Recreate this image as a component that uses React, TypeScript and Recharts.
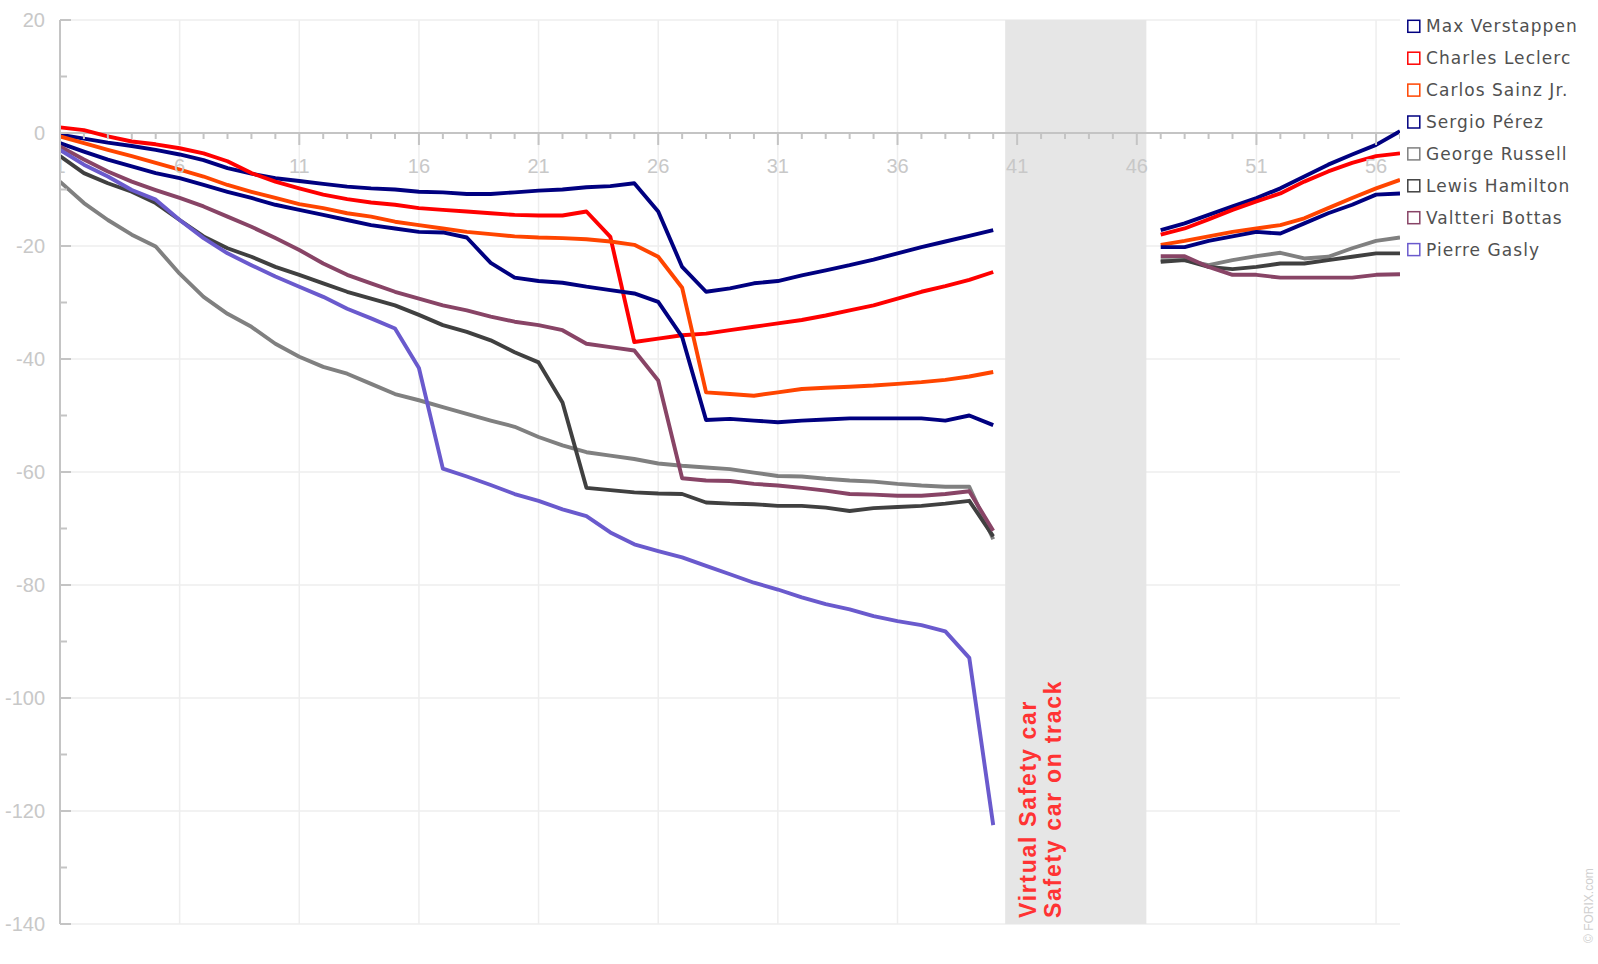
import React from 'react';
import {
  ComposedChart,
  Line,
  XAxis,
  YAxis,
  CartesianGrid,
  ReferenceArea,
  ReferenceLine,
  Scatter,
} from 'recharts';

// ---------- DATA ----------
const laps = [
  1, 2, 3, 4, 5, 6, 7, 8, 9, 10, 11, 12, 13, 14, 15, 16, 17, 18, 19, 20,
  21, 22, 23, 24, 25, 26, 27, 28, 29, 30, 31, 32, 33, 34, 35, 36, 37, 38, 39, 40,
  41, 42, 43, 44, 45, 46, 47, 48, 49, 50, 51, 52, 53, 54, 55, 56, 57,
];

const xLabelLaps = [1, 6, 11, 16, 21, 26, 31, 36, 41, 46, 51, 56];
const yTicks = [20, 10, 0, -10, -20, -30, -40, -50, -60, -70, -80, -90, -100, -110, -120, -130, -140];
const yGridValues = [20, 0, -20, -40, -60, -80, -100, -120, -140];

const n = null;

const verstappen = [
  -0.3, -1.0, -1.7, -2.3, -3.0, -3.8, -4.8, -6.2, -7.2, -8.0,
  -8.5, -9.0, -9.5, -9.8, -10.0, -10.4, -10.5, -10.8, -10.8, -10.5,
  -10.2, -10.0, -9.6, -9.4, -8.9, -13.9, -23.7, -28.1, -27.5, -26.6,
  -26.2, -25.2, -24.3, -23.4, -22.4, -21.3, -20.2, -19.2, -18.2, -17.2,
  n, n, n, n, n, n,
  -17.2, -16.0, -14.5, -13.0, -11.5, -9.8, -7.7, -5.6, -3.8, -2.1, 0.3,
];
const leclerc = [
  1.0, 0.5, -0.6, -1.5, -2.0, -2.7, -3.6, -5.0, -7.1, -8.6,
  -9.8, -10.9, -11.7, -12.3, -12.7, -13.3, -13.6, -13.9, -14.2, -14.5,
  -14.6, -14.6, -13.9, -18.4, -37.0, -36.4, -35.8, -35.5, -34.9, -34.3,
  -33.7, -33.1, -32.3, -31.4, -30.5, -29.3, -28.1, -27.1, -26.0, -24.6,
  n, n, n, n, n, n,
  -18.0, -16.9, -15.3, -13.6, -12.1, -10.7, -8.6, -6.8, -5.3, -4.1, -3.6,
];
const sainz = [
  -0.6, -1.8, -3.0, -4.1, -5.3, -6.5, -7.7, -9.2, -10.4, -11.5,
  -12.6, -13.3, -14.2, -14.8, -15.7, -16.3, -16.9, -17.5, -17.9, -18.3,
  -18.5, -18.6, -18.8, -19.2, -19.8, -21.9, -27.4, -45.9, -46.2, -46.5,
  -45.9, -45.3, -45.1, -44.9, -44.7, -44.4, -44.1, -43.7, -43.1, -42.3,
  n, n, n, n, n, n,
  -19.8, -19.1, -18.3, -17.5, -16.9, -16.3, -15.1, -13.3, -11.5, -9.8, -8.3,
];
const perez = [
  -1.8, -3.3, -4.7, -5.9, -7.1, -8.0, -9.2, -10.4, -11.5, -12.7,
  -13.6, -14.5, -15.4, -16.3, -16.9, -17.5, -17.6, -18.5, -23.0, -25.6,
  -26.2, -26.5, -27.2, -27.8, -28.4, -29.9, -36.1, -50.8, -50.6, -50.9,
  -51.2, -50.9, -50.7, -50.5, -50.5, -50.5, -50.5, -50.9, -50.0, -51.7,
  n, n, n, n, n, n,
  -20.2, -20.2, -19.1, -18.3, -17.5, -17.8, -16.0, -14.2, -12.7, -10.9, -10.7,
];
const russell = [
  -8.6, -12.4, -15.4, -18.0, -20.1, -24.9, -29.0, -32.0, -34.3, -37.3,
  -39.6, -41.4, -42.6, -44.4, -46.2, -47.3, -48.5, -49.7, -50.9, -52.0,
  -53.8, -55.3, -56.5, -57.1, -57.7, -58.5, -58.9, -59.2, -59.5, -60.1,
  -60.7, -60.8, -61.2, -61.5, -61.7, -62.1, -62.4, -62.6, -62.6, -71.9,
  n, n, n, n, n, n,
  -22.5, -22.5, -23.4, -22.5, -21.8, -21.2, -22.2, -21.9, -20.4, -19.1, -18.5,
];
const hamilton = [
  -4.1, -7.1, -8.9, -10.4, -12.4, -15.4, -18.3, -20.4, -21.9, -23.7,
  -25.1, -26.6, -28.1, -29.3, -30.5, -32.2, -34.0, -35.2, -36.7, -38.8,
  -40.6, -47.7, -62.8, -63.2, -63.6, -63.8, -63.9, -65.4, -65.6, -65.7,
  -66.0, -66.0, -66.3, -66.9, -66.4, -66.2, -66.0, -65.6, -65.1, -71.4,
  n, n, n, n, n, n,
  -22.8, -22.5, -23.7, -24.1, -23.7, -23.1, -23.1, -22.5, -21.9, -21.3, -21.3,
];
const bottas = [
  -2.4, -4.7, -6.8, -8.6, -10.1, -11.5, -13.0, -14.8, -16.6, -18.6,
  -20.7, -23.1, -25.1, -26.6, -28.1, -29.3, -30.5, -31.4, -32.5, -33.4,
  -34.0, -34.9, -37.3, -37.9, -38.5, -43.8, -61.1, -61.5, -61.6, -62.1,
  -62.4, -62.8, -63.3, -63.9, -64.0, -64.2, -64.2, -63.9, -63.4, -70.4,
  n, n, n, n, n, n,
  -21.8, -21.8, -23.7, -25.1, -25.1, -25.6, -25.6, -25.6, -25.6, -25.1, -25.0,
];
const gasly = [
  -3.0, -5.6, -7.7, -10.1, -11.8, -15.4, -18.6, -21.3, -23.4, -25.4,
  -27.2, -29.0, -31.1, -32.8, -34.6, -41.6, -59.4, -60.8, -62.3, -63.9,
  -65.1, -66.6, -67.8, -70.7, -72.8, -74.0, -75.1, -76.6, -78.1, -79.6,
  -80.8, -82.2, -83.4, -84.3, -85.5, -86.4, -87.1, -88.2, -92.9, -122.5,
  n, n, n, n, n, n,
  n, n, n, n, n, n, n, n, n, n, n,
];

const driverNames = [
  'Max Verstappen',
  'Charles Leclerc',
  'Carlos Sainz Jr.',
  'Sergio Pérez',
  'George Russell',
  'Lewis Hamilton',
  'Valtteri Bottas',
  'Pierre Gasly',
];
const driverKeys = ['ver', 'lec', 'sai', 'per', 'rus', 'ham', 'bot', 'gas'];
const driverColors = ['#000080', '#ff0000', '#ff4500', '#000080', '#808080', '#404040', '#884466', '#6a5acd'];
const driverValues = [verstappen, leclerc, sainz, perez, russell, hamilton, bottas, gasly];

const vscStart = 40.5;
const vscEnd = 46.4;
const vscLabels = ['Virtual Safety car', 'Safety car on track'];
const copyright = '© FORIX.com';

// ---------- derived tables ----------
const rows = laps.map((lap, i) => {
  const r: Record<string, number | null> = { lap };
  driverKeys.forEach((k, d) => {
    r[k] = driverValues[d][i];
  });
  return r;
});
const axisTickData = laps.map((lap) => ({ lap, zero: 0 }));

// ---------- styles ----------
const AXIS = '#c4c4c4';
const LABEL = '#c8c8c8';
const FONT = '"Liberation Sans", Arial, sans-serif';

const YTick = (props: any) => {
  const { x, y, payload } = props;
  const v = payload.value as number;
  const major = v % 20 === 0;
  return (
    <g>
      <line x1={x} x2={x + (major ? 11 : 7)} y1={y} y2={y} stroke={AXIS} strokeWidth={2} />
      {major && (
        <text x={x - 15} y={y + 7} textAnchor="end" fontSize={20} fill={LABEL} fontFamily={FONT}>
          {v}
        </text>
      )}
    </g>
  );
};

const XTickShape = (props: any) => {
  const { cx, cy, payload } = props;
  const lap = payload.lap as number;
  const major = xLabelLaps.includes(lap);
  return (
    <g>
      <line x1={cx} x2={cx} y1={cy} y2={cy + (major ? 12 : 6)} stroke={AXIS} strokeWidth={2} />
      {major && (
        <text x={cx} y={cy + 40} textAnchor="middle" fontSize={20} fill={LABEL} fontFamily={FONT}>
          {lap}
        </text>
      )}
    </g>
  );
};

const VscShape = (props: any) => {
  const { x, y, width, height } = props;
  const bottom = y + height - 6;
  return (
    <g>
      <rect x={x} y={y} width={width} height={height} fill="#e6e6e6" />
      <text
        transform={`translate(${x + 31}, ${bottom}) rotate(-90)`}
        fill="#ff3333"
        fontSize={23}
        fontWeight="bold"
        letterSpacing={1.7}
        fontFamily={FONT}
      >
        {vscLabels[0]}
      </text>
      <text
        transform={`translate(${x + 56}, ${bottom}) rotate(-90)`}
        fill="#ff3333"
        fontSize={23}
        fontWeight="bold"
        letterSpacing={1.7}
        fontFamily={FONT}
      >
        {vscLabels[1]}
      </text>
    </g>
  );
};

const Legend = () => (
  <svg width={195} height={270} style={{ position: 'absolute', left: 1403, top: 0 }}>
    {driverNames.map((name, i) => {
      const cy = 26.3 + i * 31.9;
      return (
        <g key={name}>
          <rect x={4.8} y={cy - 6} width={12} height={12} fill="none" stroke={driverColors[i]} strokeWidth={1.5} />
          <text
            x={23}
            y={cy + 6}
            fontSize={17}
            letterSpacing={1.05}
            fill="#505050"
            fontFamily='"DejaVu Sans", Verdana, sans-serif'
          >
            {name}
          </text>
        </g>
      );
    })}
  </svg>
);

export default function App() {
  return (
    <div style={{ position: 'absolute', left: 0, top: 0, width: 1598, height: 952, background: '#fff' }}>
      <ComposedChart
        width={1598}
        height={952}
        data={rows}
        margin={{ top: 20, right: 198, bottom: 28, left: 0 }}
      >
        <CartesianGrid
          stroke="#eeeeee"
          strokeWidth={1.5}
          horizontalValues={yGridValues}
          verticalValues={xLabelLaps}
        />
        <XAxis dataKey="lap" type="number" domain={[1, 57]} hide allowDataOverflow />
        <YAxis
          type="number"
          domain={[-140, 20]}
          ticks={yTicks}
          interval={0}
          width={60}
          tickLine={false}
          tickSize={0}
          tickMargin={0}
          axisLine={{ stroke: AXIS, strokeWidth: 2 }}
          tick={<YTick />}
          allowDataOverflow
        />
        <ReferenceArea x1={vscStart} x2={vscEnd} shape={VscShape} />
        <ReferenceLine y={0} stroke={AXIS} strokeWidth={2} />
        <Scatter data={axisTickData} dataKey="zero" shape={XTickShape} isAnimationActive={false} />
        {driverKeys.map((k, i) => (
          <Line
            key={k}
            dataKey={k}
            name={driverNames[i]}
            stroke={driverColors[i]}
            strokeWidth={3.9}
            dot={false}
            activeDot={false}
            type="linear"
            strokeLinejoin="round"
            isAnimationActive={false}
          />
        ))}
      </ComposedChart>
      <Legend />
      <svg width={30} height={128} style={{ position: 'absolute', left: 1568, top: 828 }}>
        <text transform="translate(25, 115) rotate(-90)" fontSize={12} fill="#d0d0d0" fontFamily={FONT}>
          {copyright}
        </text>
      </svg>
    </div>
  );
}
